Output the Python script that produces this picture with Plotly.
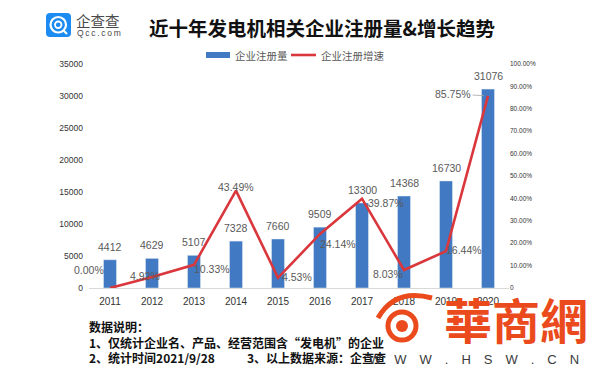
import plotly.graph_objects as go

# ---------------- data ----------------
years = ["2011", "2012", "2013", "2014", "2015", "2016", "2017", "2018", "2019", "2020"]
registrations = [4412, 4629, 5107, 7328, 7660, 9509, 13300, 14368, 16730, 31076]
growth_pct = [0.00, 4.92, 10.33, 43.49, 4.53, 24.14, 39.87, 8.03, 16.44, 85.75]
left_ticks = [0, 5000, 10000, 15000, 20000, 25000, 30000, 35000]
right_ticks = [0, 10, 20, 30, 40, 50, 60, 70, 80, 90, 100]
right_tick_labels = ["0"] + [f"{v:.2f}%" for v in right_ticks[1:]]

title_text = "近十年发电机相关企业注册量&增长趋势"
legend_bar = "企业注册量"
legend_line = "企业注册增速"
note_lines = ["数据说明：", "1、仅统计企业名、产品、经营范围含“发电机”的企业", "2、统计时间2021/9/28"]
note_source = "3、以上数据来源：企查查"

BLUE = "#4279c3"
RED = "#d9373c"
GRAY = "#595959"
CJK = "Noto Sans CJK SC"
NUM = "Liberation Sans Narrow, Liberation Sans, Arial"

OFF = 8  # page offset of the figure in the browser
W, H = 602, 386
L, T = 89 - OFF, 64 - OFF
PW, PH = 420, 224
R, B = W - L - PW, H - T - PH


def px(x):
    return (x - OFF - L) / PW


def py(y):
    return (T + PH - (y - OFF)) / PH


xi = list(range(len(years)))

fig = go.Figure()
fig.add_trace(go.Bar(x=xi, y=registrations, marker_color=BLUE, width=0.31,
                     name=legend_bar, showlegend=False, yaxis="y"))
fig.add_trace(go.Scatter(x=xi, y=growth_pct, mode="lines", line=dict(color=RED, width=2.6),
                         name=legend_line, showlegend=False, yaxis="y2"))

ann = []
# bar value labels
for i, v in zip(xi, registrations):
    ann.append(dict(x=i, y=v, xref="x", yref="y", text=str(v), showarrow=False,
                    xanchor="center", yanchor="bottom", yshift=5,
                    font=dict(family=NUM, size=10.5, color=GRAY)))

# growth labels (pixel offsets are styling only)
offsets = [(-21, 18), (-7, 1), (18, -4), (0, 4), (19, 1), (18, -10), (24, -4), (-16, -4), (18, 1)]
for i, (dx, dy) in zip(xi[:-1], offsets):
    g = growth_pct[i]
    ann.append(dict(x=i, y=g, xref="x", yref="y2", text=f"{g:.2f}%", showarrow=False,
                    xanchor="center", yanchor="middle", xshift=dx, yshift=dy,
                    font=dict(family=NUM, size=10.5, color=GRAY)))
ann.append(dict(x=xi[-1], y=growth_pct[-1], xref="x", yref="y2", text=f"{growth_pct[-1]:.2f}%",
                showarrow=True, ax=-35, ay=-2, arrowhead=0, arrowwidth=0.8, arrowcolor="#a6a6a6",
                standoff=4, font=dict(family=NUM, size=10.5, color=GRAY)))


def pann(x, y, text, size, color, family=CJK, xanchor="center"):
    ann.append(dict(x=px(x), y=py(y), xref="paper", yref="paper", text=text, showarrow=False,
                    xanchor=xanchor, yanchor="middle", font=dict(family=family, size=size, color=color)))


# title
pann(322, 27, f"<b>{title_text}</b>", 19.5, "#111111")

# legend (manual)
shapes = []
shapes.append(dict(type="rect", xref="paper", yref="paper", x0=px(206), x1=px(230), y0=py(58), y1=py(52),
                   fillcolor=BLUE, line=dict(width=0)))
pann(233, 55, legend_bar, 10.5, GRAY, xanchor="left")
shapes.append(dict(type="line", xref="paper", yref="paper", x0=px(291), x1=px(316), y0=py(55), y1=py(55),
                   line=dict(color=RED, width=2.6)))
pann(319, 55, legend_line, 10.5, GRAY, xanchor="left")

# logo
shapes.append(dict(type="path", xref="paper", yref="paper",
                   path=f"M {px(50)},{py(13)} L {px(67)},{py(13)} Q {px(71)},{py(13)} {px(71)},{py(17)} "
                        f"L {px(71)},{py(33)} Q {px(71)},{py(37)} {px(67)},{py(37)} L {px(50)},{py(37)} "
                        f"Q {px(46)},{py(37)} {px(46)},{py(33)} L {px(46)},{py(17)} Q {px(46)},{py(13)} {px(50)},{py(13)} Z",
                   fillcolor="#1c8cf2", line=dict(width=0)))
shapes.append(dict(type="circle", xref="paper", yref="paper", x0=px(50.5), x1=px(66), y0=py(32.5), y1=py(17),
                   line=dict(color="white", width=2.2)))
shapes.append(dict(type="circle", xref="paper", yref="paper", x0=px(55), x1=px(61.5), y0=py(28), y1=py(21.5),
                   line=dict(color="white", width=1.8)))
shapes.append(dict(type="line", xref="paper", yref="paper", x0=px(63), x1=px(67), y0=py(30), y1=py(34),
                   line=dict(color="white", width=2.2)))
pann(74, 20.5, "企查查", 14.5, "#4a4a4a", xanchor="left")
pann(74.5, 33, "Q\u2009c\u2009c\u2009.\u2009c\u2009o\u2009m", 8.5, "#4a4a4a",
     family="Liberation Sans, Arial", xanchor="left")

# footnote
for txt, yy in zip(note_lines, [326, 342, 357]):
    pann(87, yy, f"<b>{txt}</b>", 12, "#111111", xanchor="left")
pann(245, 357, f"<b>{note_source}</b>", 12, "#111111", xanchor="left")

# watermark
shapes.append(dict(type="circle", xref="paper", yref="paper", x0=px(388), x1=px(416), y0=py(340), y1=py(312),
                   line=dict(color="#ea4a1c", width=5)))
shapes.append(dict(type="circle", xref="paper", yref="paper", x0=px(396), x1=px(408), y0=py(332), y1=py(320),
                   fillcolor="#ea4a1c", line=dict(width=0)))
shapes.append(dict(type="path", xref="paper", yref="paper",
                   path=f"M {px(378)},{py(318)} Q {px(395)},{py(288)} {px(432)},{py(298)}",
                   line=dict(color="#ea4a1c", width=5)))
pann(516, 318, "<b>華商網</b>", 48, "#ea4a1c", family="Noto Sans CJK TC")
pann(474, 359, "W\u2003W\u2003W\u2003.\u2003H\u2003S\u2003W\u2003.\u2003C\u2003N", 13, "#3a3a3a",
     family="Liberation Sans, Arial")

fig.update_layout(
    width=W, height=H, margin=dict(l=L, r=R, t=T, b=B, autoexpand=False),
    paper_bgcolor="white", plot_bgcolor="white",
    showlegend=False, bargap=0.69,
    xaxis=dict(range=[-0.5, len(years) - 0.5], tickvals=xi, ticktext=years, showgrid=False, zeroline=False,
               showline=True, linecolor="#d9d9d9", linewidth=1, ticks="", ticklabelstandoff=4,
               tickfont=dict(family="Liberation Sans, Arial", size=10, color="#333333")),
    yaxis=dict(range=[0, 35000], tickvals=left_ticks, tickformat="d", showgrid=False, zeroline=False, ticks="",
               ticklabelstandoff=5,
               tickfont=dict(family="Liberation Sans, Arial", size=8.5, color="#333333")),
    yaxis2=dict(range=[0, 100], overlaying="y", side="right", tickvals=right_ticks, ticktext=right_tick_labels,
                showgrid=False, zeroline=False, ticks="",
                tickfont=dict(family="Liberation Sans, Arial", size=6.5, color="#333333")),
    annotations=ann, shapes=shapes,
)

fig.write_html("out.html")
